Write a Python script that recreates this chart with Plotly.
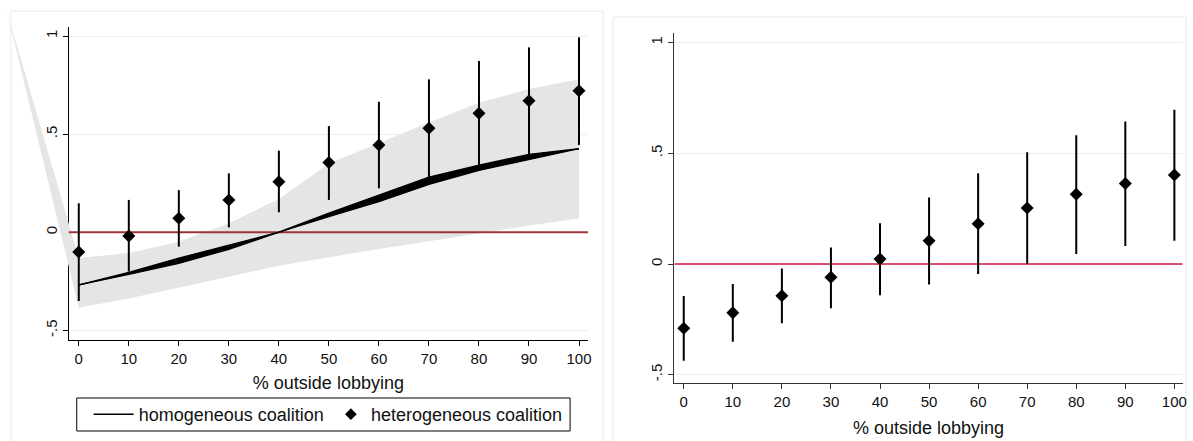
import plotly.graph_objects as go

# ---------------- data ----------------
x_vals = [0, 10, 20, 30, 40, 50, 60, 70, 80, 90, 100]
x_ticks = [0, 10, 20, 30, 40, 50, 60, 70, 80, 90, 100]
y_ticks = [-0.5, 0, 0.5, 1]
y_ticktext = ["-.5", "0", ".5", "1"]
ref_value = 0

# left panel: heterogeneous coalition (diamonds with CI)
het_mid = [-0.100, -0.019, 0.071, 0.165, 0.258, 0.355, 0.445, 0.530, 0.606, 0.670, 0.721]
het_lo = [-0.350, -0.200, -0.073, 0.025, 0.102, 0.165, 0.224, 0.278, 0.334, 0.390, 0.445]
het_hi = [0.148, 0.165, 0.215, 0.300, 0.416, 0.541, 0.665, 0.779, 0.873, 0.942, 0.993]

# left panel: homogeneous coalition (line, thick black band between two curves)
hom_a = [-0.268, -0.205, -0.132, -0.065, 0.000, 0.097, 0.190, 0.280, 0.342, 0.397, 0.426]
hom_b = [-0.268, -0.215, -0.158, -0.087, 0.000, 0.080, 0.156, 0.244, 0.315, 0.372, 0.426]

# left panel: grey confidence band (first point lies outside the plot region)
band_x = [-14.4, 0, 10, 20, 30, 40, 50, 60, 70, 80, 90, 100]
band_lo = [1.13, -0.385, -0.337, -0.280, -0.226, -0.170, -0.127, -0.085, -0.045, -0.005, 0.035, 0.070]
band_hi = [1.13, -0.131, -0.106, -0.048, 0.046, 0.170, 0.350, 0.455, 0.560, 0.660, 0.730, 0.780]

# right panel
r_mid = [-0.290, -0.220, -0.143, -0.060, 0.023, 0.105, 0.182, 0.253, 0.315, 0.363, 0.402]
r_lo = [-0.437, -0.351, -0.268, -0.200, -0.141, -0.092, -0.045, 0.000, 0.045, 0.081, 0.105]
r_hi = [-0.145, -0.090, -0.020, 0.074, 0.184, 0.300, 0.410, 0.505, 0.581, 0.643, 0.696]

x_title = "% outside lobbying"
legend_names = ["homogeneous coalition", "heterogeneous coalition"]

# ---------------- layout geometry (pixels) ----------------
W, H = 1193, 441
FONT = "Liberation Sans, Arial, sans-serif"

L_px = dict(x0=69, x1=590, y_top=27, y_bot=340)
XL = [-2.0, 101.8]
YL = [-0.5487, 1.0459]

R_px = dict(x0=676.7, x1=1186.7, y_top=33.3, y_bot=383.3)
XR = [-1.9, 101.7]
YR = [-0.5386, 1.0415]

# big hidden axis for the left panel data (lets the band extend beyond the frame)
BIG = dict(x0=0, x1=600, y_top=0, y_bot=441)
pxx = (L_px["x1"] - L_px["x0"]) / (XL[1] - XL[0])
pxy = (L_px["y_bot"] - L_px["y_top"]) / (YL[1] - YL[0])
XB = [XL[0] - (L_px["x0"] - BIG["x0"]) / pxx, XL[1] + (BIG["x1"] - L_px["x1"]) / pxx]
YB = [YL[0] - (BIG["y_bot"] - L_px["y_bot"]) / pxy, YL[1] + (L_px["y_top"] - BIG["y_top"]) / pxy]

LEG_BOX = dict(x0=77, x1=572, y_top=398, y_bot=431)


def xd(a, b):
    return [a / W, b / W]


def yd(top, bot):
    return [1 - bot / H, 1 - top / H]


fig = go.Figure()

# dummy trace so that the visible left axes exist
fig.add_trace(go.Scatter(x=[None], y=[None], xaxis="x", yaxis="y", showlegend=False, hoverinfo="skip"))

# legend-only entries
fig.add_trace(go.Scatter(x=[None], y=[None], xaxis="x3", yaxis="y3", mode="lines",
                         line=dict(color="black", width=1.5), name=legend_names[0], legend="legend"))
fig.add_trace(go.Scatter(x=[None], y=[None], xaxis="x3", yaxis="y3", mode="markers",
                         marker=dict(symbol="diamond", size=9, color="black"), name=legend_names[1],
                         legend="legend2"))

# ---- left panel data (on hidden big axis x3/y3) ----
fig.add_trace(go.Scatter(x=band_x, y=band_lo, xaxis="x3", yaxis="y3", mode="lines",
                         line=dict(width=0, color="#e5e5e5"), showlegend=False, hoverinfo="skip"))
fig.add_trace(go.Scatter(x=band_x, y=band_hi, xaxis="x3", yaxis="y3", mode="lines", fill="tonexty",
                         fillcolor="#e5e5e5", line=dict(width=0, color="#e5e5e5"),
                         showlegend=False, hoverinfo="skip"))
fig.add_trace(go.Scatter(x=XL, y=[ref_value, ref_value], xaxis="x3", yaxis="y3", mode="lines",
                         line=dict(color="#9c3539", width=2), showlegend=False, hoverinfo="skip"))
fig.add_trace(go.Scatter(x=x_vals, y=hom_b, xaxis="x3", yaxis="y3", mode="lines",
                         line=dict(color="black", width=1.2), showlegend=False))
fig.add_trace(go.Scatter(x=x_vals, y=hom_a, xaxis="x3", yaxis="y3", mode="lines", fill="tonexty",
                         fillcolor="black", line=dict(color="black", width=1.5), showlegend=False))
fig.add_trace(go.Scatter(
    x=x_vals, y=het_mid, xaxis="x3", yaxis="y3", mode="markers",
    marker=dict(symbol="diamond", size=10, color="black"),
    error_y=dict(type="data", symmetric=False,
                 array=[h - m for h, m in zip(het_hi, het_mid)],
                 arrayminus=[m - l for m, l in zip(het_mid, het_lo)],
                 width=0, thickness=2, color="black"),
    showlegend=False))

# ---- right panel ----
fig.add_trace(go.Scatter(x=XR, y=[ref_value, ref_value], xaxis="x2", yaxis="y2", mode="lines",
                         line=dict(color="#d2153d", width=1.5), showlegend=False, hoverinfo="skip"))
fig.add_trace(go.Scatter(
    x=x_vals, y=r_mid, xaxis="x2", yaxis="y2", mode="markers",
    marker=dict(symbol="diamond", size=10, color="black"),
    error_y=dict(type="data", symmetric=False,
                 array=[h - m for h, m in zip(r_hi, r_mid)],
                 arrayminus=[m - l for m, l in zip(r_mid, r_lo)],
                 width=0, thickness=2, color="black"),
    showlegend=False))

tickfont = dict(family=FONT, size=15, color="#111")
titlefont = dict(family=FONT, size=18, color="#111")
GRID = "#e6eff1"


def xaxis_common(dom, rng, anchor, lc, standoff):
    return dict(domain=dom, range=rng, anchor=anchor, tickmode="array", tickvals=x_ticks,
                ticks="outside", ticklen=5, tickcolor=lc, showline=True, linecolor=lc, linewidth=1,
                showgrid=False, zeroline=False, tickfont=tickfont,
                title=dict(text=x_title, font=titlefont, standoff=standoff), fixedrange=True)


def yaxis_common(dom, rng, anchor, lc):
    return dict(domain=dom, range=rng, anchor=anchor, tickmode="array", tickvals=y_ticks,
                ticktext=y_ticktext, tickangle=-90, ticks="outside", ticklen=5, tickcolor=lc,
                showline=True, linecolor=lc, linewidth=1, showgrid=True, gridcolor=GRID, gridwidth=1,
                zeroline=False, tickfont=tickfont, fixedrange=True)


leg_common = dict(orientation="h", yanchor="middle", xanchor="left",
                  y=1 - (LEG_BOX["y_top"] + LEG_BOX["y_bot"]) / 2 / H,
                  borderwidth=0, bgcolor="rgba(0,0,0,0)",
                  font=dict(family=FONT, size=18, color="#111"))

fig.update_layout(
    width=W, height=H,
    margin=dict(l=0, r=0, t=0, b=0),
    paper_bgcolor="white", plot_bgcolor="rgba(0,0,0,0)",
    font=dict(family=FONT, color="#111"),
    xaxis=xaxis_common(xd(L_px["x0"], L_px["x1"]), XL, "y", "black", 10),
    yaxis=yaxis_common(yd(L_px["y_top"], L_px["y_bot"]), YL, "x", "black"),
    xaxis2=xaxis_common(xd(R_px["x0"], R_px["x1"]), XR, "y2", "#333", 12),
    yaxis2=yaxis_common(yd(R_px["y_top"], R_px["y_bot"]), YR, "x2", "#333"),
    xaxis3=dict(domain=xd(BIG["x0"], BIG["x1"]), range=XB, anchor="y3", visible=False, fixedrange=True),
    yaxis3=dict(domain=yd(BIG["y_top"], BIG["y_bot"]), range=YB, anchor="x3", visible=False, fixedrange=True),
    showlegend=True,
    legend=dict(leg_common, x=89 / W, itemwidth=40),
    legend2=dict(leg_common, x=332 / W, itemwidth=30),
    shapes=[
        dict(type="rect", xref="paper", yref="paper", x0=11 / W, x1=605 / W, y0=-0.05, y1=1 - 11 / H,
             line=dict(color="#e2ebee", width=1), layer="below"),
        dict(type="rect", xref="paper", yref="paper", x0=615 / W, x1=1190 / W, y0=-0.05, y1=1 - 17 / H,
             line=dict(color="#e2ebee", width=1), layer="below"),
        dict(type="rect", xref="paper", yref="paper",
             x0=LEG_BOX["x0"] / W, x1=LEG_BOX["x1"] / W,
             y0=1 - LEG_BOX["y_bot"] / H, y1=1 - LEG_BOX["y_top"] / H,
             line=dict(color="black", width=1), fillcolor="white", layer="below"),
    ],
)

fig.write_html("out.html", config={"displayModeBar": False},
               post_script="document.body.style.margin='0px';document.body.style.overflow='hidden';")
